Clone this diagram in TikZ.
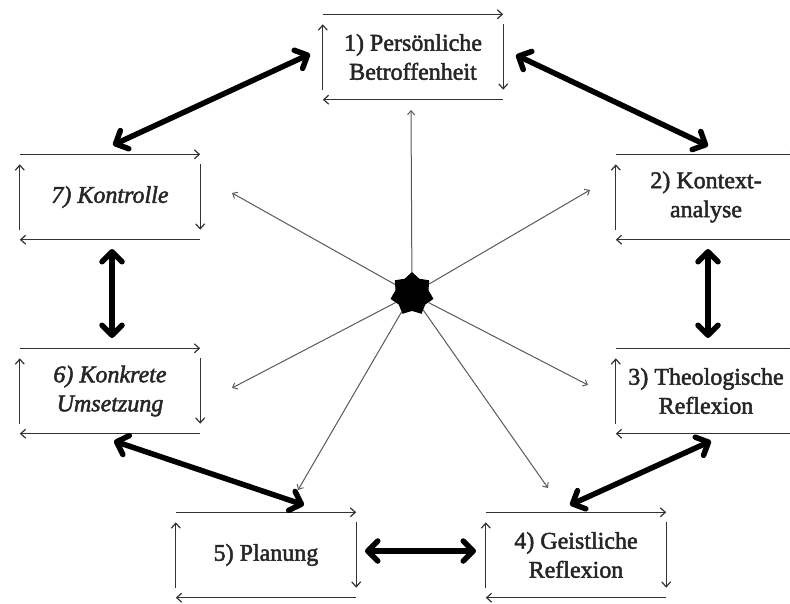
\documentclass[tikz,border=0pt]{standalone}
\usepackage{fontspec}
\setmainfont{Liberation Serif}[FakeBold=2]
\usetikzlibrary{arrows.meta,shapes.geometric}
\newcommand{\cycleframe}[1]{%
  \draw[frm] (#1.north west) -- (#1.north east);
  \draw[frm] ([yshift=-10pt]#1.north east) -- ([yshift=10pt]#1.south east);
  \draw[frm] (#1.south east) -- (#1.south west);
  \draw[frm] ([yshift=10pt]#1.south west) -- ([yshift=-10pt]#1.north west);}
\begin{document}
\begin{tikzpicture}[x=1pt,y=-1pt,
  bx/.style={minimum width=180pt,minimum height=85pt,inner sep=0pt,align=center,
    font=\fontsize{24}{29}\selectfont,text=black!85},
  frm/.style={draw=black!80,line width=1.2pt,-{Straight Barb[length=5pt,width=9pt]}},
  spoke/.style={draw=black!65,line width=1pt,-{Straight Barb[length=4pt,width=7pt]}},
  big/.style={line width=5.5pt,line cap=round,
    {Straight Barb[length=10pt,width=20pt,round]}-{Straight Barb[length=10pt,width=20pt,round]}}]
\useasboundingbox (0,0) rectangle (790,604);
\clip (0,0) rectangle (790,604);
% boxes
\node[bx] (b1) at (413,57) {1) Persönliche\\Betroffenheit};
\node[bx] (b2) at (706,197) {2) Kontext-\\analyse};
\node[bx] (b3) at (706,391) {3) Theologische\\Reflexion};
\node[bx] (b4) at (576,555) {4) Geistliche\\Reflexion};
\node[bx] (b5) at (266,555) {5) Planung};
\node[bx] (b6) at (110,391) {\itshape 6) Konkrete\\\itshape Umsetzung};
\node[bx] (b7) at (110,197) {\itshape 7) Kontrolle};
\cycleframe{b1}\cycleframe{b2}\cycleframe{b3}\cycleframe{b4}
\cycleframe{b5}\cycleframe{b6}\cycleframe{b7}
% center star
\node[star,star points=7,star point ratio=1.3,fill=black,minimum size=44pt,inner sep=0pt] (c) at (412,294) {};
\coordinate (s1) at (411,110);
\coordinate (s2) at (590,190);
\coordinate (s3) at (588,385);
\coordinate (s4) at (548,488);
\coordinate (s5) at (298,490);
\coordinate (s6) at (232,388);
\coordinate (s7) at (232,193);
\foreach \s in {s1,s2,s3,s4,s5,s6,s7} \draw[spoke] (c) -- (\s);
% thick connectors
\coordinate (t1a) at (310,54);  \coordinate (t7a) at (113,145);
\coordinate (t1b) at (516,55);  \coordinate (t2a) at (708,146);
\coordinate (t7b) at (112,249); \coordinate (t6a) at (112,338);
\coordinate (t2b) at (708,249); \coordinate (t3a) at (708,338);
\coordinate (t6b) at (114,441); \coordinate (t5a) at (304,505);
\coordinate (t3b) at (711,441); \coordinate (t4a) at (570,505);
\coordinate (t5b) at (365,551); \coordinate (t4b) at (476,551);
\draw[big] (t1a) -- (t7a);
\draw[big] (t1b) -- (t2a);
\draw[big] (t7b) -- (t6a);
\draw[big] (t2b) -- (t3a);
\draw[big] (t6b) -- (t5a);
\draw[big] (t3b) -- (t4a);
\draw[big] (t5b) -- (t4b);
\end{tikzpicture}
\end{document}
